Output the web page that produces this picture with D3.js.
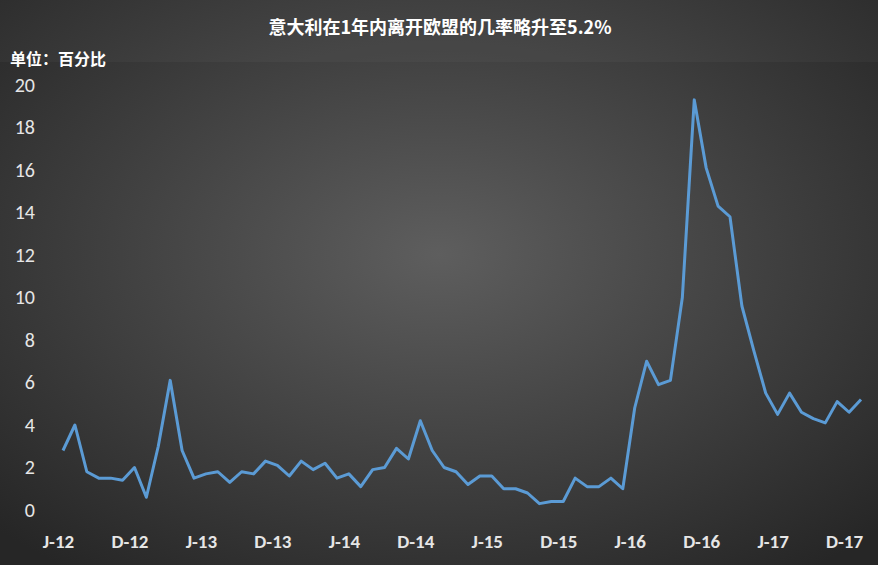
<!DOCTYPE html>
<html>
<head>
<meta charset="utf-8">
<script src="https://cdn.jsdelivr.net/npm/d3@7"></script>
<style>
body { margin: 0; background: #333; }
svg { display: block; font-family: "Noto Sans CJK SC", "Noto Sans", sans-serif; }
</style>
</head>
<body>
<svg id="chart" width="878" height="565"></svg>
<script>
// monthly probability values (percent)
var values = [2.8, 4.0, 1.8, 1.5, 1.5, 1.4, 2.0, 0.6, 3.0, 6.1, 2.8, 1.5,
	1.7, 1.8, 1.3, 1.8, 1.7, 2.3, 2.1, 1.6, 2.3, 1.9, 2.2, 1.5,
	1.7, 1.1, 1.9, 2.0, 2.9, 2.4, 4.2, 2.8, 2.0, 1.8, 1.2, 1.6,
	1.6, 1.0, 1.0, 0.8, 0.3, 0.4, 0.4, 1.5, 1.1, 1.1, 1.5, 1.0,
	4.8, 7.0, 5.9, 6.1, 10.0, 19.3, 16.1, 14.3, 13.8, 9.6, 7.5, 5.5,
	4.5, 5.5, 4.6, 4.3, 4.1, 5.1, 4.6, 5.2];
var xLabels = ["J-12", "D-12", "J-13", "D-13", "J-14", "D-14", "J-15", "D-15", "J-16", "D-16", "J-17", "D-17"];
var yTicks = [0, 2, 4, 6, 8, 10, 12, 14, 16, 18, 20];

var svg = d3.select("svg");

// background
var defs = svg.append("defs");
var grad = defs.append("radialGradient").attr("id", "bg").attr("cx", "50%").attr("cy", "45%").attr("r", "70%");
grad.append("stop").attr("offset", "0%").attr("stop-color", "#5e5e5e");
grad.append("stop").attr("offset", "100%").attr("stop-color", "#262626");
svg.append("rect").attr("width", 878).attr("height", 565).attr("fill", "url(#bg)");
// slightly lighter title band
svg.append("rect").attr("x", 0).attr("y", 0).attr("width", 878).attr("height", 62)
	.attr("fill", "#ffffff").attr("opacity", 0.03);

svg.append("text").attr("x", 440).attr("y", 34).attr("text-anchor", "middle")
	.attr("fill", "#fff").attr("font-size", 18).attr("font-weight", "bold")
	.text("意大利在1年内离开欧盟的几率略升至5.2%");
svg.append("text").attr("x", 10).attr("y", 65)
	.attr("fill", "#fff").attr("font-size", 16).attr("font-weight", "bold")
	.text("单位：百分比");

var x = d3.scaleLinear().domain([0, values.length - 1]).range([63, 861]);
var y = d3.scaleLinear().domain([0, 20]).range([510, 85]);

// y axis
var yAxis = svg.append("g").attr("transform", "translate(38,0)")
	.call(d3.axisLeft(y).tickValues(yTicks).tickSize(0).tickPadding(3));
yAxis.select(".domain").remove();
yAxis.selectAll("text").attr("fill", "#e6e6e6").attr("font-size", 20)
	.attr("font-family", "Calibri, 'Liberation Sans', sans-serif");

// x axis
var xAxis = svg.append("g").attr("transform", "translate(0,530)")
	.call(d3.axisBottom(x).tickValues(xLabels.map(function(d, i) { return i * 6; }))
		.tickFormat(function(d) { return xLabels[d / 6]; }).tickSize(0).tickPadding(4));
xAxis.select(".domain").remove();
xAxis.selectAll("text").attr("fill", "#e6e6e6").attr("font-size", 19).attr("font-weight", "bold")
	.attr("font-family", "Calibri, 'Liberation Sans', sans-serif").attr("dx", -5);

// line
var line = d3.line().x(function(d, i) { return x(i); }).y(function(d) { return y(d); });
svg.append("path").datum(values).attr("d", line)
	.attr("fill", "none").attr("stroke", "#5b9bd5").attr("stroke-width", 3)
	.attr("stroke-linejoin", "round");
</script>
</body>
</html>
